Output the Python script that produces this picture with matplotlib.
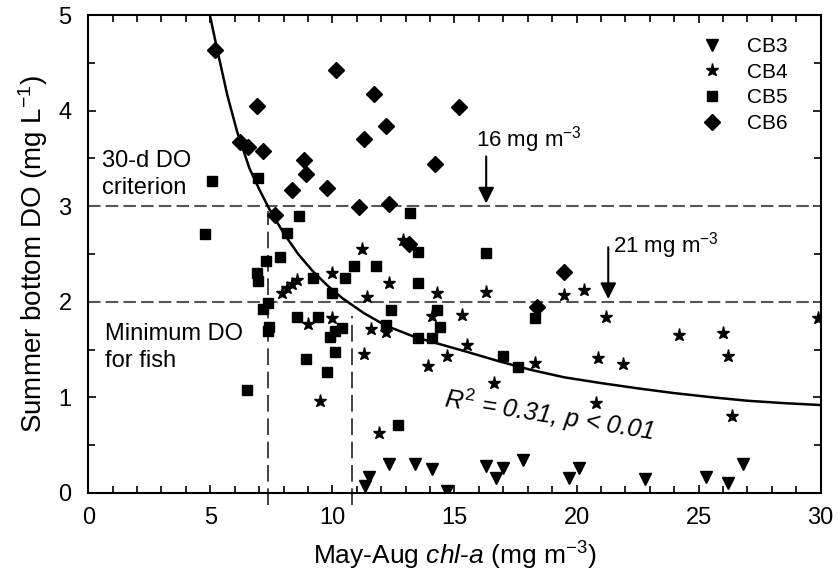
import numpy as np
import matplotlib
matplotlib.use("Agg")
import matplotlib.pyplot as plt
from matplotlib.ticker import MultipleLocator

plt.rcParams["font.family"] = ["Liberation Sans", "DejaVu Sans"]
plt.rcParams["mathtext.fontset"] = "custom"
plt.rcParams["mathtext.rm"] = "Liberation Sans"
plt.rcParams["mathtext.it"] = "Liberation Sans:italic"

# station data
cb3_x = [11.5, 11.35, 12.3, 13.4, 14.1, 14.7, 16.3, 16.7, 17.0, 17.8, 19.7, 20.1, 22.8, 25.3, 26.2, 26.8]
cb3_y = [0.17, 0.07, 0.30, 0.30, 0.25, 0.02, 0.28, 0.16, 0.26, 0.34, 0.16, 0.26, 0.15, 0.17, 0.10, 0.30]

cb4_x = [7.95, 8.15, 8.35, 8.55, 10.0, 10.0, 9.0, 9.5, 11.4, 12.3, 11.6, 12.2, 11.3, 13.9, 14.3, 14.1,
         11.2, 12.9, 16.3, 19.5, 20.3, 15.3, 15.5, 14.7, 16.6, 18.3, 11.9, 21.2, 24.2, 26.0, 26.2,
         20.9, 21.9, 20.8, 26.35, 29.9]
cb4_y = [2.09, 2.14, 2.19, 2.23, 2.30, 1.83, 1.77, 0.96, 2.05, 2.20, 1.72, 1.68, 1.45, 1.33, 2.09, 1.85,
         2.55, 2.65, 2.10, 2.07, 2.12, 1.86, 1.55, 1.43, 1.15, 1.36, 0.63, 1.84, 1.65, 1.67, 1.43,
         1.41, 1.35, 0.94, 0.81, 1.83]

cb5_x = [5.08, 4.8, 6.97, 8.65, 8.16, 7.87, 7.3, 6.9, 6.95, 7.38, 7.17, 7.42, 7.38, 8.57, 9.4, 8.9,
         6.5, 9.2, 10.0, 10.1, 10.4, 9.9, 10.1, 9.8, 10.9, 11.8, 10.5, 13.5, 12.4, 12.2, 13.5, 14.1,
         14.3, 14.4, 17.0, 17.6, 18.3, 12.7, 16.3, 13.2, 13.5]
cb5_y = [3.26, 2.71, 3.30, 2.90, 2.72, 2.47, 2.43, 2.30, 2.22, 1.99, 1.92, 1.74, 1.69, 1.84, 1.84, 1.40,
         1.08, 2.25, 2.09, 1.70, 1.73, 1.63, 1.47, 1.27, 2.37, 2.37, 2.25, 2.20, 1.91, 1.76, 1.62, 1.62,
         1.91, 1.74, 1.43, 1.32, 1.83, 0.71, 2.51, 2.93, 2.52]

cb6_x = [5.2, 6.93, 10.15, 6.23, 6.56, 7.17, 8.85, 8.93, 8.36, 9.8, 7.66, 11.7, 15.2, 12.2, 11.3,
         14.2, 11.1, 12.3, 13.15, 19.5, 18.4]
cb6_y = [4.63, 4.05, 4.43, 3.67, 3.62, 3.58, 3.48, 3.34, 3.17, 3.19, 2.91, 4.17, 4.04, 3.84, 3.70,
         3.44, 2.99, 3.02, 2.60, 2.31, 1.95]

# fitted curve
fit_x = [5.0, 5.3, 5.7, 6.1, 6.6, 7.0, 7.4, 8.0, 8.6, 9.2, 9.8, 10.4, 11.3, 12.2, 13.4, 14.5, 15.4,
         16.8, 18.1, 19.5, 21.0, 22.5, 24.0, 25.6, 27.0, 28.5, 30.0]
fit_y = [4.98, 4.62, 4.16, 3.78, 3.40, 3.18, 2.98, 2.72, 2.50, 2.32, 2.17, 2.04, 1.88, 1.75, 1.63,
         1.55, 1.485, 1.38, 1.29, 1.21, 1.15, 1.095, 1.045, 1.00, 0.965, 0.94, 0.92]

do_criterion = 3.0
do_fish = 2.0
chl_at_criterion = 7.35
chl_at_fish = 10.8

fig = plt.figure(figsize=(8.4, 5.81), dpi=100)
ax = fig.add_axes([0.105, 0.1515, 0.872, 0.8225])

ax.axhline(do_criterion, color="#555555", lw=1.5, dashes=(6, 2.5))
ax.axhline(do_fish, color="#555555", lw=1.5, dashes=(6, 2.5))
ax.plot([chl_at_criterion, chl_at_criterion], [-0.13, do_criterion - 0.05], color="#222222",
        lw=1.2, dashes=(10, 4), clip_on=False)
ax.plot([chl_at_fish, chl_at_fish], [-0.13, 1.85], color="#222222",
        lw=1.2, dashes=(10, 4), clip_on=False)

ax.plot(fit_x, fit_y, color="black", lw=1.8)

ax.plot(cb3_x, cb3_y, "v", color="black", ms=9, ls="none", label="CB3")
ax.plot(cb4_x, cb4_y, "*", color="black", ms=9.5, ls="none", label="CB4")
ax.plot(cb5_x, cb5_y, "s", color="black", ms=7.5, ls="none", label="CB5")
ax.plot(cb6_x, cb6_y, "D", color="black", ms=8, ls="none", label="CB6")

ax.set_xlim(0, 30)
ax.set_ylim(0, 5)
ax.xaxis.set_major_locator(MultipleLocator(5))
ax.xaxis.set_minor_locator(MultipleLocator(1))
ax.yaxis.set_major_locator(MultipleLocator(1))
ax.yaxis.set_minor_locator(MultipleLocator(0.5))
ax.tick_params(which="both", direction="in", top=True, right=True, width=1.2)
ax.tick_params(which="major", length=6, labelsize=17)
ax.tick_params(axis="x", which="major", pad=10)
ax.tick_params(axis="y", which="major", pad=12)
ax.tick_params(which="minor", length=5)
for sp in ax.spines.values():
    sp.set_linewidth(1.5)

ax.set_xlabel(r"May-Aug $\it{chl}$-$\it{a}$ (mg m$^{-3}$)", fontsize=19, labelpad=8)
ax.set_ylabel(r"Summer bottom DO (mg L$^{-1}$)", fontsize=20, labelpad=6)

ax.text(0.55, 3.33, "30-d DO\ncriterion", fontsize=17, ha="left", va="center", linespacing=1.3)
ax.text(0.7, 1.52, "Minimum DO\nfor fish", fontsize=17, ha="left", va="center", linespacing=1.3)

ax.text(15.9, 3.62, r"16 mg m$^{-3}$", fontsize=16, ha="left", va="baseline")
ax.annotate("", xy=(16.3, 3.0), xytext=(16.3, 3.55),
            arrowprops=dict(arrowstyle="-|>", color="black", lw=1.5, mutation_scale=24))
ax.text(21.5, 2.52, r"21 mg m$^{-3}$", fontsize=16, ha="left", va="baseline")
ax.annotate("", xy=(21.3, 2.0), xytext=(21.3, 2.6),
            arrowprops=dict(arrowstyle="-|>", color="black", lw=1.5, mutation_scale=24))

ax.text(18.9, 0.82, r"$R^2$ = 0.31, $p$ < 0.01", fontsize=18, style="italic",
        ha="center", va="center", rotation=-9)

ax.legend(loc="upper right", bbox_to_anchor=(0.975, 0.985), frameon=False, fontsize=15,
          handlelength=1.0, handletextpad=1.2, labelspacing=0.32, borderaxespad=0.3)

fig.savefig("out.png", dpi=100)
